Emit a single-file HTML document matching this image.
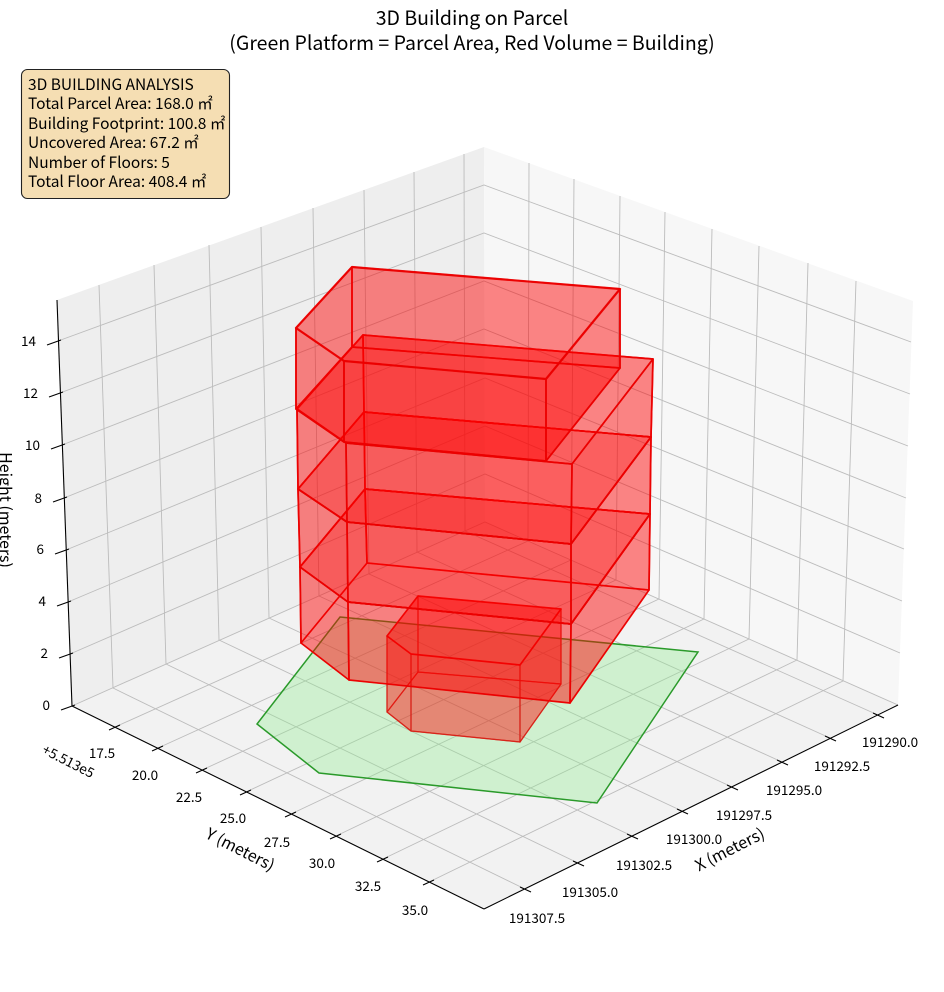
<!DOCTYPE html>
<html><head><meta charset="utf-8"><style>
html,body{margin:0;padding:0;background:#fff;}
svg{display:block;font-family:"Liberation Sans","Noto Sans CJK JP",sans-serif;}
text{font-family:"Noto Sans CJK JP","Liberation Sans",sans-serif;fill:#000;}
.g{stroke:#bcbcbc;stroke-width:0.9;fill:none}
.ax{stroke:#000;stroke-width:1.1;fill:none}
.t{font-size:13.5px}
.f{fill:rgba(255,0,0,0.27);stroke:rgba(235,0,0,0.9);stroke-width:1.7;stroke-linejoin:round}
.fg{fill:rgba(255,0,0,0.25);stroke:rgba(215,30,20,0.8);stroke-width:1.2;stroke-linejoin:round}
.nf{fill:none}
</style></head><body>
<svg width="944" height="992" viewBox="0 0 944 992" xmlns="http://www.w3.org/2000/svg">
<polygon points="57,300 484,147 485,522 72,706" fill="#eeeeee"/>
<polygon points="484,147 913,301 898,705 485,522" fill="#f7f7f7"/>
<polygon points="72,706 484,909 898,705 485,522" fill="#f2f2f2"/>
<g class="g">
<polyline points="525,889 113,688 99,285"/>
<polyline points="578,863 166,664 154,265"/>
<polyline points="632,836 219,640 209,245"/>
<polyline points="682,811 269,618 261,227"/>
<polyline points="732,787 319,596 313,208"/>
<polyline points="782,762 369,574 364,190"/>
<polyline points="830,738 417,552 414,172"/>
<polyline points="878,715 465,531 464,154"/>
<polyline points="115,727 528,541 529,163"/>
<polyline points="158,748 571,560 574,179"/>
<polyline points="202,770 616,580 620,196"/>
<polyline points="246,792 659,599 665,212"/>
<polyline points="291,814 704,619 712,229"/>
<polyline points="336,836 749,639 759,246"/>
<polyline points="383,859 797,660 808,263"/>
<polyline points="429,882 843,681 856,281"/>
<polyline points="72,706 485,522 898,705"/>
<polyline points="70,654 485,474 900,653"/>
<polyline points="68,602 485,426 902,601"/>
<polyline points="66,550 485,378 904,549"/>
<polyline points="64,498 484,329 906,498"/>
<polyline points="62,445 484,281 908,446"/>
<polyline points="60,393 484,233 910,394"/>
<polyline points="58,341 484,185 911,342"/>
</g>
<g class="ax">
<line x1="72" y1="706" x2="57" y2="300"/>
<line x1="72" y1="706" x2="484" y2="909"/>
<line x1="484" y1="909" x2="898" y2="705"/>
<line x1="75" y1="705" x2="61" y2="710"/>
<line x1="73" y1="653" x2="59" y2="658"/>
<line x1="71" y1="601" x2="57" y2="606"/>
<line x1="69" y1="549" x2="55" y2="554"/>
<line x1="67" y1="497" x2="53" y2="502"/>
<line x1="65" y1="444" x2="51" y2="449"/>
<line x1="63" y1="392" x2="49" y2="397"/>
<line x1="61" y1="340" x2="47" y2="345"/>
<line x1="120" y1="725" x2="109" y2="730"/>
<line x1="163" y1="746" x2="152" y2="751"/>
<line x1="207" y1="768" x2="196" y2="773"/>
<line x1="251" y1="790" x2="240" y2="795"/>
<line x1="296" y1="812" x2="285" y2="817"/>
<line x1="341" y1="834" x2="330" y2="839"/>
<line x1="388" y1="857" x2="377" y2="862"/>
<line x1="434" y1="880" x2="423" y2="885"/>
<line x1="520" y1="887" x2="531" y2="892"/>
<line x1="573" y1="861" x2="584" y2="866"/>
<line x1="627" y1="834" x2="638" y2="839"/>
<line x1="677" y1="809" x2="688" y2="814"/>
<line x1="727" y1="785" x2="738" y2="790"/>
<line x1="777" y1="760" x2="788" y2="765"/>
<line x1="825" y1="736" x2="836" y2="741"/>
<line x1="873" y1="713" x2="884" y2="718"/>
</g>
<polygon points="340,617 698,652 597,803 319,773 257,724" fill="rgba(144,238,144,0.35)" stroke="#2a9a2a" stroke-width="1.5"/>
<g class="fg">
<polygon points="387,712 411,731 520,742 561,684 418,672"/>
<polygon points="418,596 561,609 561,684 418,672"/>
<polygon points="387,636 418,596 418,672 387,712"/>
<polygon points="561,609 520,665 520,742 561,684"/>
<polygon points="387,636 411,654 411,731 387,712"/>
<polygon points="411,654 520,665 520,742 411,731"/>
<polygon points="387,636 411,654 520,665 561,609 418,596" stroke="rgba(235,0,0,0.9)" stroke-width="1.7"/>
</g>
<g class="f">
<polygon points="301,643 349,680 570,703 649,590 367,563" stroke-width="1.2"/>
<polygon points="367,563 649,590 650,514 365,489"/>
<polygon points="301,643 367,563 365,489 300,567"/>
<polygon points="649,590 570,703 571,624 650,514"/>
<polygon points="301,643 349,680 348,602 300,567"/>
<polygon points="349,680 570,703 571,624 348,602"/>
<polygon points="300,567 348,602 571,624 650,514 365,489"/>
<polygon class="nf" points="300,567 348,602 571,624 650,514 365,489"/>
<polygon points="365,489 650,514 651,437 364,412"/>
<polygon points="300,567 365,489 364,412 298,489"/>
<polygon points="650,514 571,624 571,544 651,437"/>
<polygon points="300,567 348,602 347,522 298,489"/>
<polygon points="348,602 571,624 571,544 347,522"/>
<polygon points="298,489 347,522 571,544 651,437 364,412"/>
<polygon class="nf" points="298,489 347,522 571,544 651,437 364,412"/>
<polygon points="364,412 651,437 653,359 363,335"/>
<polygon points="298,489 364,412 363,335 297,409"/>
<polygon points="651,437 571,544 572,464 653,359"/>
<polygon points="298,489 347,522 346,443 297,409"/>
<polygon points="347,522 571,544 572,464 346,443"/>
<polygon points="297,409 346,443 572,464 653,359 363,335"/>
<polygon points="296,409 344,442 546,461 620,368 352,347"/>
<polygon points="352,347 620,368 620,289 352,267"/>
<polygon points="296,409 352,347 352,267 296,328"/>
<polygon points="620,368 546,461 546,379 620,289"/>
<polygon points="296,409 344,442 344,361 296,328"/>
<polygon points="344,442 546,461 546,379 344,361"/>
<polygon points="296,328 344,361 546,379 620,289 352,267" stroke-width="2.2"/>
</g>
<g class="t" text-anchor="end">
<text x="50" y="710">0</text>
<text x="48" y="658">2</text>
<text x="46" y="606">4</text>
<text x="44" y="554">6</text>
<text x="42" y="503">8</text>
<text x="40" y="450">10</text>
<text x="38" y="398">12</text>
<text x="36" y="346">14</text>
</g>
<g class="t" text-anchor="middle">
<text x="102" y="758">17.5</text>
<text x="145" y="780">20.0</text>
<text x="189" y="802">22.5</text>
<text x="233" y="823">25.0</text>
<text x="277" y="847">27.5</text>
<text x="322" y="868">30.0</text>
<text x="368" y="891">32.5</text>
<text x="415" y="915">35.0</text>
<text x="537" y="923">191307.5</text>
<text x="590" y="897">191305.0</text>
<text x="644" y="870">191302.5</text>
<text x="694" y="844">191300.0</text>
<text x="744" y="820">191297.5</text>
<text x="794" y="795">191295.0</text>
<text x="842" y="771">191292.5</text>
<text x="890" y="747">191290.0</text>
</g>
<text class="t" text-anchor="middle" transform="translate(68,762) rotate(27)" dy="4">+5.513e5</text>
<text text-anchor="middle" font-size="16" transform="translate(240,850) rotate(27)" dy="5">Y (meters)</text>
<text text-anchor="middle" font-size="16" transform="translate(730,850) rotate(-27)" dy="5">X (meters)</text>
<text text-anchor="middle" font-size="16" transform="translate(5,510) rotate(90)" dy="5">Height (meters)</text>
<text x="472" y="25" text-anchor="middle" font-size="19.5">3D Building on Parcel</text>
<text x="472" y="50" text-anchor="middle" font-size="19.5">(Green Platform = Parcel Area, Red Volume = Building)</text>
<rect x="21.5" y="69.5" width="208" height="129" rx="6" ry="6" fill="#f5deb3" stroke="#222" stroke-width="1.1"/>
<g font-size="15.5">
<text x="28" y="90">3D BUILDING ANALYSIS</text>
<text x="28" y="109">Total Parcel Area: 168.0 ㎡</text>
<text x="28" y="129">Building Footprint: 100.8 ㎡</text>
<text x="28" y="148">Uncovered Area: 67.2 ㎡</text>
<text x="28" y="168">Number of Floors: 5</text>
<text x="28" y="187">Total Floor Area: 408.4 ㎡</text>
</g>
</svg>
</body></html>
